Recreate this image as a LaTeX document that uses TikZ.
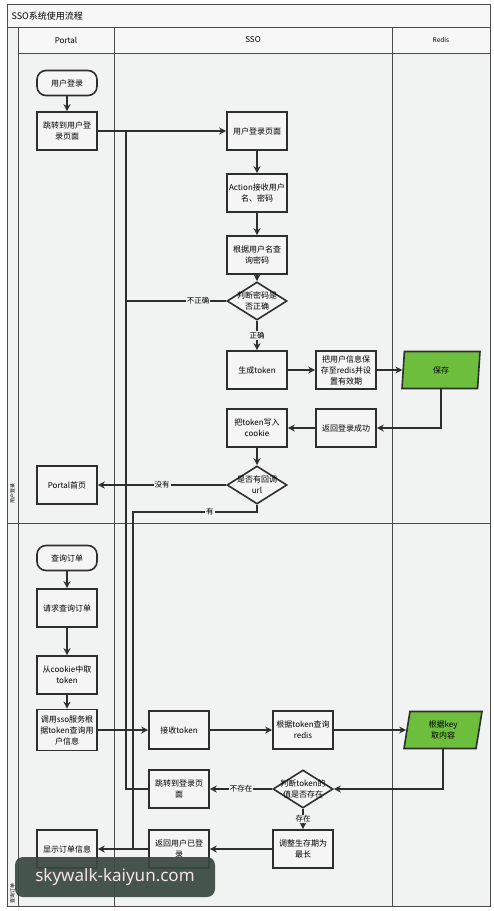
\documentclass[tikz,border=0pt]{standalone}
\usepackage{fontspec}
\setmainfont{Noto Sans CJK SC}
\newfontfamily\wmfont{Noto Sans}
\usetikzlibrary{shapes.geometric,arrows.meta,calc}
\definecolor{ln}{HTML}{2E2E2E}
\definecolor{bgl}{HTML}{F1F2F2}
\definecolor{hdr}{HTML}{F7F7F7}
\definecolor{boxf}{HTML}{F5F5F5}
\definecolor{grn}{HTML}{6DBE3C}
\definecolor{frm}{HTML}{4A4A4A}
\definecolor{wm}{HTML}{3A4842}
\definecolor{wmt}{HTML}{F6E4E4}
\begin{document}
\begin{tikzpicture}[x=1pt,y=-1pt,
 box/.style={draw=ln,line width=1.6pt,fill=boxf,minimum width=60pt,minimum height=38pt,inner sep=1pt,align=center,font=\fontsize{8}{11}\selectfont},
 term/.style={box,rounded corners=9pt,minimum height=25pt},
 dia/.style={draw=ln,line width=1.6pt,fill=boxf,diamond,minimum width=60pt,minimum height=38pt,inner sep=0pt},
 para/.style={draw=ln,line width=1.6pt,fill=grn,trapezium,trapezium left angle=72,trapezium right angle=108,trapezium stretches body,minimum width=78pt,minimum height=37pt,inner sep=0pt,align=center,font=\fontsize{8}{11}\selectfont},
 flow/.style={draw=ln,line width=1.6pt,-{Stealth[length=7pt,width=7pt]}},
 link/.style={draw=ln,line width=1.6pt},
 lbl/.style={fill=bgl,inner sep=1pt,font=\fontsize{7.5}{9}\selectfont},
 txt/.style={align=center,font=\fontsize{8}{11}\selectfont},
 jump/.style={circle,fill=ln,inner sep=0pt,minimum size=3.5pt},
 lane/.style={draw=frm,line width=0.8pt}
]
\useasboundingbox (0,0) rectangle (494,911);
\fill[white] (0,0) rectangle (494,911);
% frame and lanes
\draw[lane,fill=bgl] (7,4) rectangle (490,906);
\draw[lane,fill=hdr] (7,4) rectangle (490,27);
\node[anchor=west,font=\fontsize{9}{11}\selectfont] (title) at (8,16) {SSO系统使用流程};
\draw[lane,fill=hdr] (18,27) rectangle (490,53);
\draw[lane] (18,27) -- (18,906);
\draw[lane] (114,27) -- (114,906);
\draw[lane] (392,27) -- (392,906);
\draw[lane] (7,523) -- (490,523);
\node[font=\fontsize{8}{10}\selectfont] (hp) at (66,40) {Portal};
\node[font=\fontsize{8}{10}\selectfont] (hs) at (253,40) {SSO};
\node[font=\fontsize{6.5}{8}\selectfont] (hr) at (441,40) {Redis};
\node[rotate=90,font=\fontsize{5}{6}\selectfont] (l1) at (12.5,493) {用户登录};
\node[rotate=90,font=\fontsize{5}{6}\selectfont] (l2) at (12.5,893) {查询订单};

% lane 1 nodes
\node[term] (t1) at (67,83) {用户登录};
\node[box] (b1) at (67,131) {跳转到用户登\\录页面};
\node[box] (s1) at (257,131) {用户登录页面};
\node[box] (s2) at (257,193) {Action接收用户\\名、密码};
\node[box] (s3) at (257,255) {根据用户名查\\询密码};
\node[dia] (d1) at (257,301) {};
\node[txt] (d1t) at (d1) {判断密码是\\否正确};
\node[box] (s4) at (257,370) {生成token};
\node[box] (r1) at (346,370) {把用户信息保\\存至redis并设\\置有效期};
\node[para] (sv) at (441,370) {保存};
\node[box] (r2) at (346,428) {返回登录成功};
\node[box] (s5) at (257,428) {把token写入\\cookie};
\node[dia] (d2) at (257,485) {};
\node[txt] (d2t) at (d2) {是否有回调\\url};
\node[box] (p2) at (67,485) {Portal首页};

% lane 2 nodes
\node[term] (t2) at (67,558) {查询订单};
\node[box] (p3) at (67,608) {请求查询订单};
\node[box] (p4) at (67,675) {从cookie中取\\token};
\node[box,minimum height=41pt] (p5) at (67,730) {调用sso服务根\\据token查询用\\户信息};
\node[box] (s6) at (179,730) {接收token};
\node[box] (s7) at (303,730) {根据token查询\\redis};
\node[para] (ky) at (443,730) {根据key\\取内容};
\node[dia] (d3) at (303,789) {};
\node[txt] (d3t) at (d3) {判断token的\\值是否存在};
\node[box] (s8) at (179,789) {跳转到登录页\\面};
\node[box] (s9) at (303,849) {调整生存期为\\最长};
\node[box] (s10) at (179,849) {返回用户已登\\录};
\node[box] (p6) at (67,849) {显示订单信息};

% junction coordinates
\coordinate (ja) at (126,131);
\coordinate (jd) at (126,789);
\coordinate (jb) at (133,512);
\coordinate (jc) at (133,849);

% lane 1 connectors
\draw[flow] (t1) -- (b1);
\draw[flow] (b1) -- (s1);
\draw[flow] (s1) -- (s2);
\draw[flow] (s2) -- (s3);
\draw[flow] (s3) -- (d1);
\draw[link] (s8.west) -- (jd) -- (ja);
\draw[link] (d1.west) -- node[lbl,pos=0.28]{不正确} (d1.west -| ja);
\draw[flow] (d1) -- node[lbl]{正确} (s4);
\draw[flow] (s4) -- (r1);
\draw[flow] (r1) -- (sv);
\draw[flow] (sv.south) |- (r2.east);
\draw[flow] (r2) -- (s5);
\draw[flow] (s5) -- (d2);
\draw[flow] (d2.west) -- node[lbl,pos=0.5]{没有} (p2.east);
\draw[link] (d2.south) |- node[lbl,pos=0.69]{有} (jb) -- (jc);

% lane 2 connectors
\draw[flow] (t2) -- (p3);
\draw[flow] (p3) -- (p4);
\draw[flow] (p4) -- (p5);
\draw[flow] (p5) -- (s6);
\draw[flow] (s6) -- (s7);
\draw[flow] (s7) -- (ky);
\draw[flow] (ky.south) |- (d3.east);
\draw[flow] (d3.west) -- node[lbl,pos=0.5]{不存在} (s8.east);
\draw[flow] (d3) -- node[lbl]{存在} (s9);
\draw[flow] (s9) -- (s10);
\draw[flow] (s10) -- (p6);

% line-jump dots
\node[jump] (x1) at (126,485) {};
\node[jump] (x2) at (126,730) {};
\node[jump] (x3) at (133,730) {};
\node[jump] (x4) at (133,789) {};

% watermark
\node[fill=wm,fill opacity=0.93,text opacity=1,text=wmt,rounded corners=8pt,minimum width=200pt,minimum height=40pt,inner sep=0pt,font=\wmfont\fontsize{17}{20}\selectfont] (wmk) at (115,877) {skywalk-kaiyun.com};
\end{tikzpicture}
\end{document}
